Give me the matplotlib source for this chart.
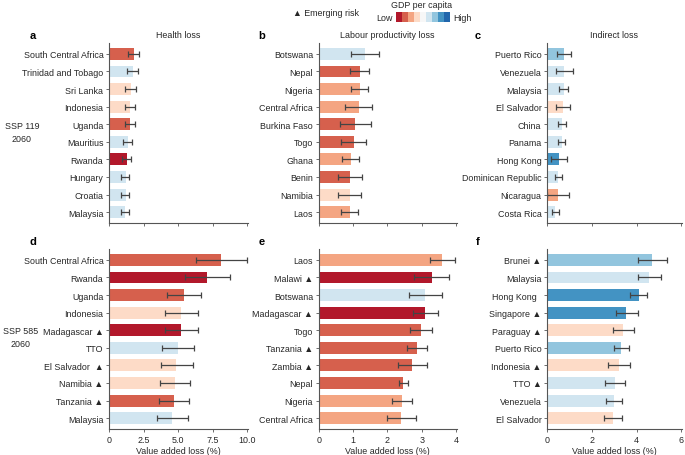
import matplotlib
matplotlib.use('Agg')
import matplotlib.pyplot as plt
import numpy as np

plt.rcParams['font.family'] = ['Liberation Sans', 'DejaVu Sans']

# GDP per capita palette (low -> high)
palette = ['#b2182b', '#d6604d', '#f4a582', '#fddbc7', '#f7f7f7',
           '#d1e5f0', '#92c5de', '#4393c3', '#2166ac']

# panel a: health loss, SSP 119
a_names = ['South Central Africa', 'Trinidad and Tobago', 'Sri Lanka', 'Indonesia', 'Uganda',
           'Mauritius', 'Rwanda', 'Hungary', 'Croatia', 'Malaysia']
a_val = [1.81, 1.71, 1.57, 1.52, 1.52, 1.35, 1.28, 1.23, 1.21, 1.18]
a_lo = [1.38, 1.30, 1.16, 1.16, 1.16, 1.01, 0.94, 0.89, 0.89, 0.87]
a_hi = [2.20, 2.12, 1.93, 1.86, 1.86, 1.67, 1.57, 1.47, 1.47, 1.47]
a_gdp = [1, 5, 3, 3, 1, 5, 0, 5, 5, 5]

# panel b: labour productivity loss, SSP 119
b_names = ['Botswana', 'Nepal', 'Nigeria', 'Central Africa', 'Burkina Faso',
           'Togo', 'Ghana', 'Benin', 'Namibia', 'Laos']
b_val = [1.36, 1.20, 1.20, 1.17, 1.07, 1.02, 0.94, 0.91, 0.91, 0.91]
b_lo = [0.95, 0.92, 0.94, 0.78, 0.63, 0.65, 0.68, 0.57, 0.57, 0.66]
b_hi = [1.76, 1.47, 1.44, 1.55, 1.53, 1.39, 1.18, 1.26, 1.24, 1.15]
b_gdp = [5, 1, 2, 2, 1, 1, 2, 1, 3, 2]

# panel c: indirect loss, SSP 119
c_names = ['Puerto Rico', 'Venezuela', 'Malaysia', 'El Salvador', 'China',
           'Panama', 'Hong Kong', 'Dominican Republic', 'Nicaragua', 'Costa Rica']
c_val = [0.77, 0.74, 0.74, 0.70, 0.65, 0.65, 0.55, 0.49, 0.49, 0.37]
c_lo = [0.45, 0.40, 0.55, 0.41, 0.48, 0.49, 0.19, 0.37, 0.01, 0.22]
c_hi = [1.08, 1.14, 0.95, 1.01, 0.83, 0.80, 0.89, 0.65, 0.97, 0.52]
c_gdp = [6, 5, 5, 3, 5, 5, 7, 5, 2, 5]

# panel d: health loss, SSP 585
d_names = ['South Central Africa', 'Rwanda', 'Uganda', 'Indonesia', 'Madagascar ▲',
           'TTO', 'El Salvador  ▲', 'Namibia ▲', 'Tanzania ▲', 'Malaysia']
d_val = [8.12, 7.08, 5.41, 5.22, 5.17, 4.98, 4.86, 4.76, 4.69, 4.59]
d_lo = [6.26, 5.48, 4.20, 4.03, 4.03, 3.82, 3.74, 3.72, 3.65, 3.50]
d_hi = [9.98, 8.72, 6.62, 6.47, 6.40, 6.13, 6.04, 5.89, 5.77, 5.72]
d_gdp = [1, 0, 1, 3, 0, 5, 3, 3, 1, 5]

# panel e: labour productivity loss, SSP 585
e_names = ['Laos', 'Malawi ▲', 'Botswana', 'Madagascar ▲', 'Togo',
           'Tanzania ▲', 'Zambia ▲', 'Nepal', 'Nigeria', 'Central Africa']
e_val = [3.60, 3.29, 3.10, 3.10, 2.97, 2.85, 2.73, 2.46, 2.42, 2.41]
e_lo = [3.24, 2.77, 2.64, 2.74, 2.66, 2.56, 2.31, 2.34, 2.14, 1.99]
e_hi = [3.96, 3.79, 3.58, 3.47, 3.29, 3.15, 3.15, 2.61, 2.71, 2.82]
e_gdp = [2, 0, 5, 0, 1, 1, 1, 1, 2, 2]

# panel f: indirect loss, SSP 585
f_names = ['Brunei ▲', 'Malaysia', 'Hong Kong  ', 'Singapore ▲', 'Paraguay ▲',
           'Puerto Rico', 'Indonesia ▲', 'TTO ▲', 'Venezuela', 'El Salvador']
f_val = [4.69, 4.57, 4.09, 3.54, 3.41, 3.32, 3.23, 3.04, 3.01, 2.96]
f_lo = [4.05, 4.06, 3.72, 3.08, 2.96, 2.99, 2.74, 2.60, 2.63, 2.53]
f_hi = [5.36, 5.10, 4.46, 4.06, 3.88, 3.68, 3.71, 3.48, 3.36, 3.36]
f_gdp = [6, 5, 7, 7, 3, 6, 3, 5, 5, 3]

panels = [
    ('a', a_names, a_val, a_lo, a_hi, a_gdp),
    ('b', b_names, b_val, b_lo, b_hi, b_gdp),
    ('c', c_names, c_val, c_lo, c_hi, c_gdp),
    ('d', d_names, d_val, d_lo, d_hi, d_gdp),
    ('e', e_names, e_val, e_lo, e_hi, e_gdp),
    ('f', f_names, f_val, f_lo, f_hi, f_gdp),
]
titles = ['Health loss', 'Labour productivity loss', 'Indirect loss']
xmax = [10, 4, 6]
xticks = [[0, 2.5, 5, 7.5, 10], [0, 1, 2, 3, 4], [0, 2, 4, 6]]
xticklabels = [['0', '2.5', '5.0', '7.5', '10.0'], ['0', '1', '2', '3', '4'], ['0', '2', '4', '6']]

W, H = 685, 456
fig = plt.figure(figsize=(W / 100, H / 100), dpi=100)

# axes boxes in pixels: left, right for each column; top, bottom for each row
cols = [(109, 248), (318.7, 456.7), (547, 682)]
rows = [(44, 224), (250, 430)]
grey = '#555555'
txt = '#262626'
fs = 6.4

for i, (letter, names, val, lo, hi, gdp) in enumerate(panels):
    r, c = divmod(i, 3)
    x0, x1 = cols[c]
    y0, y1 = rows[r]
    ax = fig.add_axes([x0 / W, 1 - y1 / H, (x1 - x0) / W, (y1 - y0) / H])
    y = np.arange(len(names))
    val = np.array(val)
    err = [val - np.array(lo), np.array(hi) - val]
    ax.barh(y, val, height=0.68, color=[palette[g] for g in gdp], edgecolor='none')
    ax.errorbar(val, y, xerr=err, fmt='none', ecolor='#444444', elinewidth=0.9,
                capsize=2, capthick=0.9)
    ax.set_ylim(9.62, -0.62)
    ax.set_xlim(0, xmax[c] * 1.005)
    ax.set_yticks(y)
    ax.set_yticklabels(names, fontsize=fs, color=txt)
    ax.set_xticks(xticks[c])
    if r == 1:
        ax.set_xticklabels(xticklabels[c], fontsize=fs, color=txt)
        ax.set_xlabel('Value added loss (%)', fontsize=fs, color=txt, labelpad=2)
    else:
        ax.set_xticklabels([])
        ax.set_title(titles[c], fontsize=fs, color=txt, pad=4)
    for s in ['top', 'right']:
        ax.spines[s].set_visible(False)
    for s in ['left', 'bottom']:
        ax.spines[s].set_color(grey)
        ax.spines[s].set_linewidth(0.8)
    ax.tick_params(axis='both', length=2.5, width=0.6, color=grey, pad=1.5)
    lx = [33, 262, 478][c]
    ly = [36, 242][r]
    fig.text(lx / W, 1 - ly / H, letter, fontsize=8, fontweight='bold',
             ha='center', va='center')

fig.text(22 / W, 1 - 133 / H, 'SSP 119\n2060', fontsize=fs, ha='center', va='center',
         color=txt, linespacing=1.5)
fig.text(21 / W, 1 - 338 / H, 'SSP 585\n2060', fontsize=fs, ha='center', va='center',
         color=txt, linespacing=1.5)

# legend
fig.text(293 / W, 1 - 13 / H, '▲ Emerging risk', fontsize=fs, ha='left', va='center',
         color=txt)
fig.text(422 / W, 1 - 6 / H, 'GDP per capita', fontsize=fs, ha='center', va='center',
         color=txt)
lax = fig.add_axes([396 / W, 1 - 23 / H, 54 / W, 10 / H])
lax.imshow(np.arange(len(palette))[None, :], aspect='auto',
           cmap=matplotlib.colors.ListedColormap(palette))
lax.axis('off')
fig.text(393 / W, 1 - 18.5 / H, 'Low', fontsize=fs, ha='right', va='center', color=txt)
fig.text(453 / W, 1 - 18.5 / H, 'High', fontsize=fs, ha='left', va='center', color=txt)

fig.savefig('out.png', dpi=100)
